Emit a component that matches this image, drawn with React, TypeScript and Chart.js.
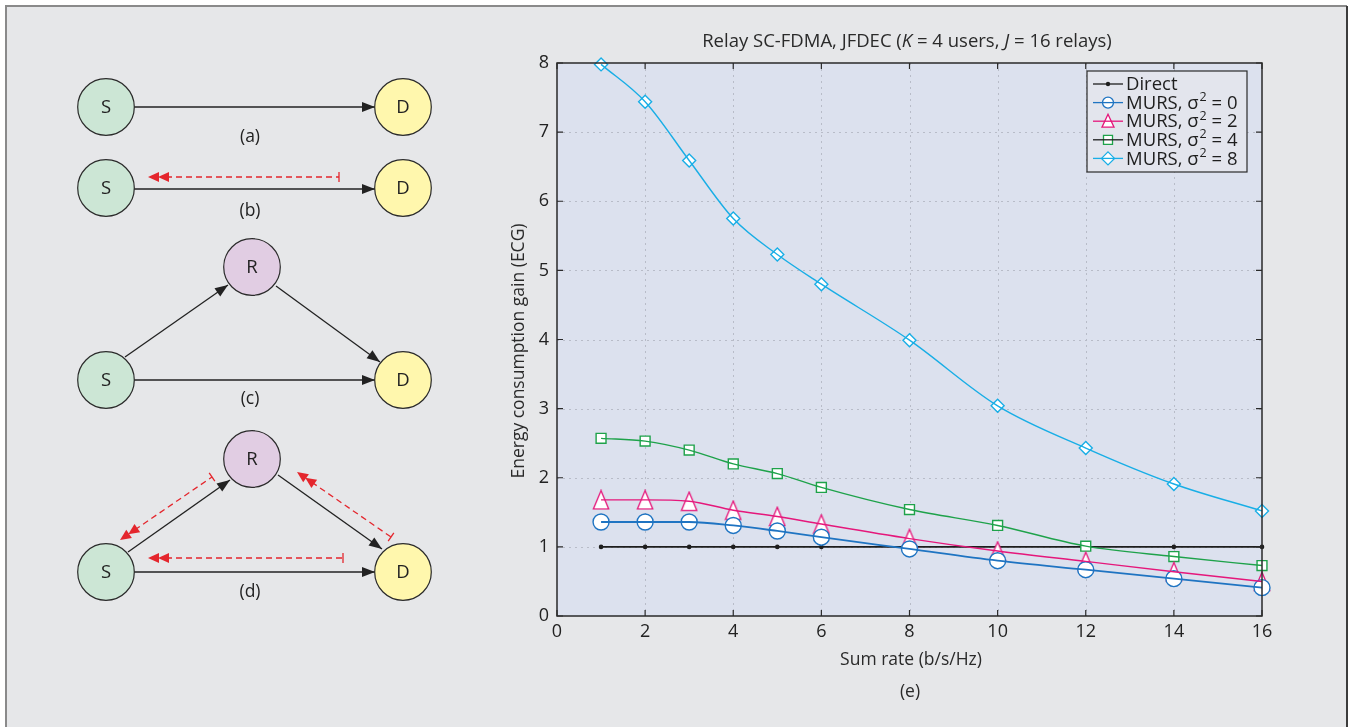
import React, { useEffect, useRef } from "react";
import { Chart, registerables } from "chart.js";

Chart.register(...registerables);

// ---------------- data ----------------
const XS = [1, 2, 3, 4, 5, 6, 8, 10, 12, 14, 16];
const DIRECT = [1, 1, 1, 1, 1, 1, 1, 1, 1, 1, 1];
const MURS_S0 = [1.36, 1.36, 1.36, 1.31, 1.23, 1.14, 0.97, 0.8, 0.67, 0.54, 0.41];
const MURS_S2 = [1.68, 1.68, 1.66, 1.53, 1.44, 1.33, 1.12, 0.94, 0.79, 0.64, 0.5];
const MURS_S4 = [2.57, 2.53, 2.4, 2.2, 2.06, 1.86, 1.54, 1.31, 1.01, 0.86, 0.73];
const MURS_S8 = [7.98, 7.44, 6.59, 5.75, 5.23, 4.8, 3.99, 3.04, 2.43, 1.91, 1.52];
const X_TICKS = [0, 2, 4, 6, 8, 10, 12, 14, 16];
const Y_TICKS = [0, 1, 2, 3, 4, 5, 6, 7, 8];
const SIGMAS = ["0", "2", "4", "8"];
const TITLE_PARTS: [string, boolean][] = [
  ["Relay SC-FDMA, JFDEC (", false],
  ["K", true],
  [" = 4 users, ", false],
  ["J", true],
  [" = 16 relays)", false],
];
const X_TITLE = "Sum rate (b/s/Hz)";
const Y_TITLE = "Energy consumption gain (ECG)";
const PANEL_LABEL = "(e)";

const FAMILY = "'Open Sans', 'Noto Sans', 'DejaVu Sans', sans-serif";

const C_DIRECT = "#1e1e1e";
const C_BLUE = "#1f74c2";
const C_PINK = "#e5177b";
const C_GREEN = "#1ea24a";
const C_CYAN = "#18aee6";

function makeTriangle(w: number, h: number, color: string, lw: number) {
  const c = document.createElement("canvas");
  c.width = Math.ceil(w + lw * 2);
  c.height = Math.ceil(h + lw * 2);
  const ctx = c.getContext("2d")!;
  ctx.fillStyle = "#ffffff";
  ctx.strokeStyle = color;
  ctx.lineWidth = lw;
  ctx.beginPath();
  ctx.moveTo(c.width / 2, lw);
  ctx.lineTo(c.width - lw, c.height - lw);
  ctx.lineTo(lw, c.height - lw);
  ctx.closePath();
  ctx.fill();
  ctx.stroke();
  return c;
}

function toPts(ys: number[]) {
  return XS.map((x, i) => ({ x, y: ys[i] }));
}

function drawMarker(ctx: CanvasRenderingContext2D, kind: string, x: number, y: number, color: string) {
  ctx.save();
  ctx.lineWidth = 1.3;
  ctx.strokeStyle = color;
  ctx.fillStyle = "#ffffff";
  ctx.beginPath();
  if (kind === "dot") {
    ctx.fillStyle = color;
    ctx.arc(x, y, 2.2, 0, Math.PI * 2);
    ctx.fill();
  } else if (kind === "circle") {
    ctx.arc(x, y, 5.5, 0, Math.PI * 2);
    ctx.fill();
    ctx.stroke();
  } else if (kind === "tri") {
    ctx.moveTo(x, y - 7);
    ctx.lineTo(x + 6, y + 6);
    ctx.lineTo(x - 6, y + 6);
    ctx.closePath();
    ctx.fill();
    ctx.stroke();
  } else if (kind === "square") {
    ctx.rect(x - 4.5, y - 4.5, 9, 9);
    ctx.fill();
    ctx.stroke();
  } else if (kind === "diamond") {
    ctx.moveTo(x, y - 6.5);
    ctx.lineTo(x + 6.5, y);
    ctx.lineTo(x, y + 6.5);
    ctx.lineTo(x - 6.5, y);
    ctx.closePath();
    ctx.fill();
    ctx.stroke();
  }
  ctx.restore();
}

const decorPlugin = {
  id: "decor",
  beforeDraw(chart: any) {
    const ctx: CanvasRenderingContext2D = chart.ctx;
    const { left, right, top, bottom } = chart.chartArea;
    ctx.save();
    ctx.fillStyle = "#ffffff";
    ctx.fillRect(0, 0, chart.width, chart.height);
    ctx.fillStyle = "#e6e7e9";
    ctx.fillRect(6, 6, 1341, 760);
    ctx.strokeStyle = "#8a8a8a";
    ctx.lineWidth = 2;
    ctx.beginPath();
    ctx.moveTo(6, 760);
    ctx.lineTo(6, 6);
    ctx.lineTo(1347, 6);
    ctx.stroke();
    ctx.strokeStyle = "#3c3c3c";
    ctx.beginPath();
    ctx.moveTo(1347, 6);
    ctx.lineTo(1347, 760);
    ctx.stroke();
    // plot background
    ctx.fillStyle = "#dce1ee";
    ctx.fillRect(left, top, right - left, bottom - top);
    // dotted grid
    const xs = chart.scales.x;
    const ys = chart.scales.y;
    ctx.strokeStyle = "#b8bcc8";
    ctx.lineWidth = 1;
    ctx.setLineDash([2, 4]);
    X_TICKS.forEach((v) => {
      const px = Math.round(xs.getPixelForValue(v)) + 0.5;
      if (px <= left + 2 || px >= right - 2) return;
      ctx.beginPath();
      ctx.moveTo(px, top);
      ctx.lineTo(px, bottom);
      ctx.stroke();
    });
    Y_TICKS.forEach((v) => {
      const py = Math.round(ys.getPixelForValue(v)) + 0.5;
      if (py <= top + 2 || py >= bottom - 2) return;
      ctx.beginPath();
      ctx.moveTo(left, py);
      ctx.lineTo(right, py);
      ctx.stroke();
    });
    ctx.restore();
  },
  afterDraw(chart: any) {
    const ctx: CanvasRenderingContext2D = chart.ctx;
    const { left, right, top, bottom } = chart.chartArea;
    const xs = chart.scales.x;
    const ys = chart.scales.y;
    ctx.save();
    // frame
    ctx.strokeStyle = "#2a2a2a";
    ctx.lineWidth = 1.5;
    ctx.strokeRect(left, top, right - left, bottom - top);
    // inward ticks
    ctx.lineWidth = 1.2;
    X_TICKS.forEach((v) => {
      const px = xs.getPixelForValue(v);
      ctx.beginPath();
      ctx.moveTo(px, bottom);
      ctx.lineTo(px, bottom - 6);
      ctx.moveTo(px, top);
      ctx.lineTo(px, top + 6);
      ctx.stroke();
    });
    Y_TICKS.forEach((v) => {
      const py = ys.getPixelForValue(v);
      ctx.beginPath();
      ctx.moveTo(left, py);
      ctx.lineTo(left + 6, py);
      ctx.moveTo(right, py);
      ctx.lineTo(right - 6, py);
      ctx.stroke();
    });

    // title
    ctx.fillStyle = "#2a2a2a";
    ctx.textBaseline = "middle";
    const normal = `18.5px ${FAMILY}`;
    const italic = `italic 18.5px ${FAMILY}`;
    let total = 0;
    TITLE_PARTS.forEach(([t, it]) => {
      ctx.font = it ? italic : normal;
      total += ctx.measureText(t).width;
    });
    let tx = 907 - total / 2;
    ctx.textAlign = "left";
    TITLE_PARTS.forEach(([t, it]) => {
      ctx.font = it ? italic : normal;
      ctx.fillText(t, tx, 42);
      tx += ctx.measureText(t).width;
    });

    // axis titles
    ctx.font = `17.5px ${FAMILY}`;
    ctx.textAlign = "center";
    ctx.fillText(X_TITLE, 911, 660);
    ctx.fillText(PANEL_LABEL, 910, 692);
    ctx.save();
    ctx.translate(519, 351);
    ctx.rotate(-Math.PI / 2);
    ctx.fillText(Y_TITLE, 0, 0);
    ctx.restore();

    // legend
    const lx = 1087, ly = 71, lw = 160, lh = 101;
    ctx.fillStyle = "#e3e5ed";
    ctx.fillRect(lx, ly, lw, lh);
    ctx.strokeStyle = "#2a2a2a";
    ctx.lineWidth = 1.2;
    ctx.strokeRect(lx, ly, lw, lh);
    const rows = [
      { kind: "dot", color: C_DIRECT, line: C_DIRECT, label: "Direct", sigma: null as string | null },
      { kind: "circle", color: C_BLUE, line: C_BLUE, label: "MURS, σ", sigma: SIGMAS[0] },
      { kind: "tri", color: C_PINK, line: C_PINK, label: "MURS, σ", sigma: SIGMAS[1] },
      { kind: "square", color: C_GREEN, line: "#1e1e1e", label: "MURS, σ", sigma: SIGMAS[2] },
      { kind: "diamond", color: C_CYAN, line: C_CYAN, label: "MURS, σ", sigma: SIGMAS[3] },
    ];
    rows.forEach((r, i) => {
      const ry = 84 + i * 18.6;
      drawMarker(ctx, r.kind, 1108, ry, r.color);
      ctx.strokeStyle = r.line;
      ctx.lineWidth = 1.3;
      ctx.beginPath();
      ctx.moveTo(1093, ry);
      ctx.lineTo(1123, ry);
      ctx.stroke();
      ctx.fillStyle = "#1e1e1e";
      ctx.textAlign = "left";
      ctx.textBaseline = "middle";
      ctx.font = `18.5px ${FAMILY}`;
      let x = 1126;
      ctx.fillText(r.label, x, ry + 1);
      x += ctx.measureText(r.label).width;
      if (r.sigma !== null) {
        ctx.font = `12.5px ${FAMILY}`;
        ctx.fillText("2", x + 1, ry - 5);
        x += ctx.measureText("2").width + 1;
        ctx.font = `18.5px ${FAMILY}`;
        ctx.fillText(" = " + r.sigma, x, ry + 1);
      }
    });
    ctx.restore();
  },
};

// ---------------- diagrams ----------------
type P = [number, number];
const BLACK = "#222222";
const RED = "#e4262d";

function head(tip: P, from: P, len: number, hw: number, color: string, key: string) {
  const dx = tip[0] - from[0];
  const dy = tip[1] - from[1];
  const d = Math.hypot(dx, dy);
  const ux = dx / d, uy = dy / d;
  const bx = tip[0] - ux * len, by = tip[1] - uy * len;
  const pts = `${tip[0]},${tip[1]} ${bx - uy * hw},${by + ux * hw} ${bx + uy * hw},${by - ux * hw}`;
  return <polygon key={key} points={pts} fill={color} />;
}

function Arrow({ a, b }: { a: P; b: P }) {
  return (
    <g>
      <line x1={a[0]} y1={a[1]} x2={b[0]} y2={b[1]} stroke={BLACK} strokeWidth={1.3} />
      {head(b, a, 13, 5, BLACK, "h")}
    </g>
  );
}

function RedArrow({ tip, tail }: { tip: P; tail: P }) {
  const dx = tail[0] - tip[0];
  const dy = tail[1] - tip[1];
  const d = Math.hypot(dx, dy);
  const ux = dx / d, uy = dy / d;
  const second: P = [tip[0] + ux * 10, tip[1] + uy * 10];
  const lineStart: P = [tip[0] + ux * 18, tip[1] + uy * 18];
  return (
    <g>
      <line x1={lineStart[0]} y1={lineStart[1]} x2={tail[0]} y2={tail[1]} stroke={RED} strokeWidth={1.3} strokeDasharray="6 4" />
      <line x1={tail[0] - uy * 5} y1={tail[1] + ux * 5} x2={tail[0] + uy * 5} y2={tail[1] - ux * 5} stroke={RED} strokeWidth={1.3} />
      {head(tip, tail, 11, 5, RED, "h1")}
      {head(second, tail, 11, 5, RED, "h2")}
    </g>
  );
}

function Node({ c, label, fill }: { c: P; label: string; fill: string }) {
  return (
    <g>
      <circle cx={c[0]} cy={c[1]} r={28.3} fill={fill} stroke="#2a2a2a" strokeWidth={1.2} />
      <text x={c[0]} y={c[1] + 1} textAnchor="middle" dominantBaseline="middle" fontSize={18.5} fontFamily={FAMILY} fill="#222">
        {label}
      </text>
    </g>
  );
}

const GREEN_FILL = "#cce6d5";
const YELLOW_FILL = "#fff7ad";
const PURPLE_FILL = "#e1cde3";

function SubLabel({ x, y, t }: { x: number; y: number; t: string }) {
  return (
    <text x={x} y={y} textAnchor="middle" dominantBaseline="middle" fontSize={17.5} fontFamily={FAMILY} fill="#222">
      {t}
    </text>
  );
}

function Diagrams() {
  return (
    <svg width={480} height={727} style={{ position: "absolute", left: 0, top: 0, pointerEvents: "none" }}>
      {/* (a) */}
      <Arrow a={[134, 107]} b={[375, 107]} />
      <Node c={[106, 107]} label="S" fill={GREEN_FILL} />
      <Node c={[403, 107]} label="D" fill={YELLOW_FILL} />
      <SubLabel x={250} y={137} t="(a)" />
      {/* (b) */}
      <Arrow a={[134, 189]} b={[375, 189]} />
      <RedArrow tip={[148, 177]} tail={[339, 177]} />
      <Node c={[106, 188]} label="S" fill={GREEN_FILL} />
      <Node c={[403, 188]} label="D" fill={YELLOW_FILL} />
      <SubLabel x={250} y={211} t="(b)" />
      {/* (c) */}
      <Arrow a={[125, 357]} b={[228, 285]} />
      <Arrow a={[276, 286]} b={[380, 362]} />
      <Arrow a={[134, 380]} b={[375, 380]} />
      <Node c={[252, 267]} label="R" fill={PURPLE_FILL} />
      <Node c={[106, 380]} label="S" fill={GREEN_FILL} />
      <Node c={[403, 380]} label="D" fill={YELLOW_FILL} />
      <SubLabel x={250} y={399} t="(c)" />
      {/* (d) */}
      <Arrow a={[128, 552]} b={[230, 480]} />
      <Arrow a={[278, 475]} b={[382, 549]} />
      <Arrow a={[134, 572]} b={[375, 572]} />
      <RedArrow tip={[148, 558]} tail={[343, 558]} />
      <RedArrow tip={[120, 540]} tail={[212, 477]} />
      <RedArrow tip={[297, 472]} tail={[391, 537]} />
      <Node c={[252, 459]} label="R" fill={PURPLE_FILL} />
      <Node c={[106, 572]} label="S" fill={GREEN_FILL} />
      <Node c={[403, 572]} label="D" fill={YELLOW_FILL} />
      <SubLabel x={250} y={592} t="(d)" />
    </svg>
  );
}

function markerSet(label: string, ys: number[], color: string, style: any, radius: number) {
  return {
    label: label + " markers",
    data: toPts(ys),
    showLine: false,
    borderColor: color,
    backgroundColor: "#ffffff",
    pointBorderColor: color,
    pointBackgroundColor: "#ffffff",
    pointStyle: style,
    pointRadius: radius,
    pointBorderWidth: 1.4,
    clip: false,
    order: 10,
  };
}

function lineSet(label: string, ys: number[], color: string, width: number) {
  return {
    label,
    data: toPts(ys),
    borderColor: color,
    borderWidth: width,
    pointRadius: 0,
    cubicInterpolationMode: "monotone",
    clip: false,
    order: 1,
  };
}

export default function App() {
  const ref = useRef<HTMLCanvasElement | null>(null);
  useEffect(() => {
    if (!ref.current) return;
    const tri = makeTriangle(15, 18, C_PINK, 1.3);
    const chart = new Chart(ref.current, {
      type: "line",
      data: {
        datasets: [
          {
            label: "Direct",
            data: toPts(DIRECT),
            borderColor: C_DIRECT,
            backgroundColor: C_DIRECT,
            borderWidth: 1.6,
            pointStyle: "circle",
            pointRadius: 2.3,
            pointBorderWidth: 0,
            tension: 0,
            clip: false,
            order: 20,
          },
          markerSet("MURS 0", MURS_S0, C_BLUE, "circle", 8),
          markerSet("MURS 2", MURS_S2, C_PINK, tri, 9),
          markerSet("MURS 4", MURS_S4, C_GREEN, "rect", 7),
          markerSet("MURS 8", MURS_S8, C_CYAN, "rectRot", 6.5),
          lineSet("MURS 0", MURS_S0, C_BLUE, 1.8),
          lineSet("MURS 2", MURS_S2, C_PINK, 1.4),
          lineSet("MURS 4", MURS_S4, C_GREEN, 1.4),
          lineSet("MURS 8", MURS_S8, C_CYAN, 1.4),
        ] as any,
      },
      options: {
        responsive: false,
        animation: false,
        events: [],
        layout: { padding: { left: 507, right: 88, top: 63, bottom: 81 } },
        plugins: { legend: { display: false }, tooltip: { enabled: false }, title: { display: false } },
        scales: {
          x: {
            type: "linear",
            min: 0,
            max: 16,
            afterFit: (s: any) => {
              s.height = 30;
            },
            afterBuildTicks: (s: any) => {
              s.ticks = X_TICKS.map((v) => ({ value: v }));
            },
            grid: { display: false, drawTicks: false },
            border: { display: false },
            ticks: { padding: 5, color: "#222", font: { family: FAMILY, size: 18 }, maxRotation: 0 },
          },
          y: {
            type: "linear",
            min: 0,
            max: 8,
            afterFit: (s: any) => {
              s.width = 50;
            },
            afterBuildTicks: (s: any) => {
              s.ticks = Y_TICKS.map((v) => ({ value: v }));
            },
            grid: { display: false, drawTicks: false },
            border: { display: false },
            ticks: { padding: 8, color: "#222", font: { family: FAMILY, size: 18 } },
          },
        },
      } as any,
      plugins: [decorPlugin],
    });
    return () => chart.destroy();
  }, []);

  return (
    <div style={{ position: "absolute", left: 0, top: 0, width: 1350, height: 727, overflow: "hidden" }}>
      <canvas ref={ref} width={1350} height={727} style={{ position: "absolute", left: 0, top: 0, width: 1350, height: 727 }} />
      <Diagrams />
    </div>
  );
}
